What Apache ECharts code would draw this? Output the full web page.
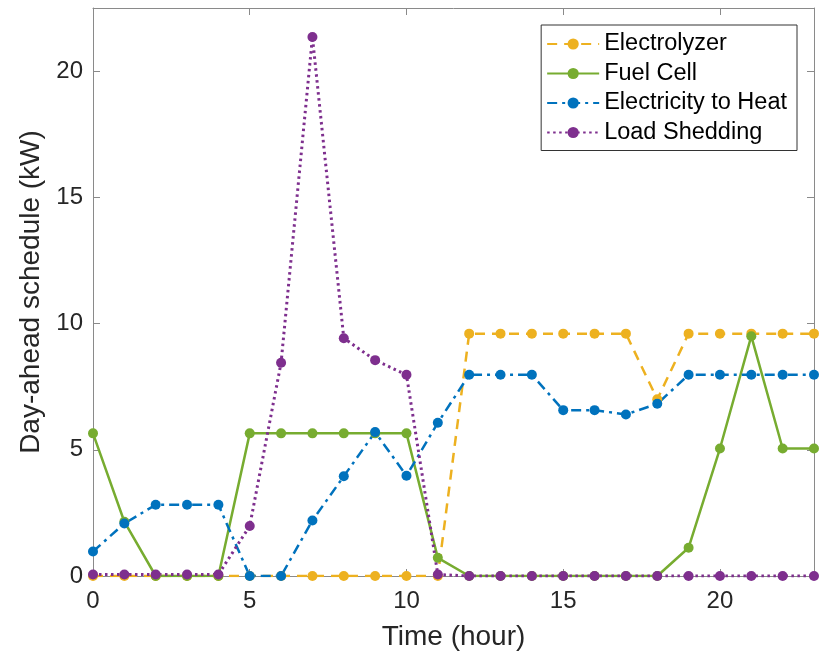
<!DOCTYPE html>
<html>
<head>
<meta charset="utf-8">
<script src="https://cdn.jsdelivr.net/npm/echarts@6/dist/echarts.min.js"></script>
<style>
html,body{margin:0;padding:0;background:#fff;}
#chart{width:821px;height:656px;}
</style>
</head>
<body>
<div id="chart"></div>
<script>
const hours = [0,1,2,3,4,5,6,7,8,9,10,11,12,13,14,15,16,17,18,19,20,21,22,23];
const electrolyzer = [0,0,0,0,0,0,0,0,0,0,0,0,9.6,9.6,9.6,9.6,9.6,9.6,7.0,9.6,9.6,9.6,9.6,9.6];
const fuelCell = [5.65,2.15,0,0,0,5.65,5.65,5.65,5.65,5.65,5.65,0.72,0,0,0,0,0,0,0,1.12,5.05,9.5,5.05,5.05];
const elecToHeat = [0.97,2.08,2.82,2.82,2.82,0,0,2.2,3.95,5.7,3.97,6.07,7.97,7.97,7.97,6.57,6.57,6.4,6.82,7.97,7.97,7.97,7.97,7.97];
const loadShedding = [0.06,0.06,0.06,0.06,0.06,1.98,8.45,21.35,9.42,8.55,7.97,0.06,0,0,0,0,0,0,0,0,0,0,0,0];
const xTicks = [0,5,10,15,20];
const yTicks = [0,5,10,15,20];
const seriesNames = ['Electrolyzer','Fuel Cell','Electricity to Heat','Load Shedding'];

const pair = arr => hours.map((h,i)=>[h,arr[i]]);
const font = 'Liberation Sans, Arial, Helvetica, sans-serif';
const axisColor = '#8a8a8a';
const textColor = '#262626';

const chart = echarts.init(document.getElementById('chart'), null, {renderer:'canvas'});
const mkSeries = (name, data, color, type, width) => ({
  name, type:'line', data: pair(data),
  symbol:'circle', symbolSize:10,
  itemStyle:{color},
  lineStyle:{color, width, type},
  animation:false
});
chart.setOption({
  animation:false,
  grid:{left:93, right:7, top:8, bottom:80, containLabel:false, outerBoundsMode:'none'},
  legend:{
    orient:'vertical', right:24, top:25,
    backgroundColor:'#fff',
    borderColor:'#333', borderWidth:1,
    padding:[7,10,6,5],
    itemWidth:52, itemHeight:14, itemGap:5.5,
    textStyle:{fontFamily:font, fontSize:23.5, color:'#000', lineHeight:24},
    data: seriesNames
  },
  xAxis:[{
    type:'value', min:0, max:23,
    name:'Time (hour)', nameLocation:'middle', nameGap:47,
    nameTextStyle:{fontFamily:font, fontSize:28, color:textColor},
    axisLine:{show:true, onZero:false, lineStyle:{color:axisColor, width:1}},
    axisTick:{show:true, inside:true, length:7, customValues:xTicks, lineStyle:{color:axisColor}},
    axisLabel:{customValues:xTicks, fontFamily:font, fontSize:24, color:textColor, margin:13},
    splitLine:{show:false}
  },{
    type:'value', min:0, max:23, position:'top',
    axisLine:{show:true, onZero:false, lineStyle:{color:axisColor, width:1}},
    axisTick:{show:true, inside:true, length:7, customValues:xTicks, lineStyle:{color:axisColor}},
    axisLabel:{show:false}, splitLine:{show:false}
  }],
  yAxis:[{
    type:'value', min:0, max:22.5,
    name:'Day-ahead schedule (kW)', nameLocation:'middle', nameGap:45,
    nameTextStyle:{fontFamily:font, fontSize:28, color:textColor},
    axisLine:{show:true, onZero:false, lineStyle:{color:axisColor, width:1}},
    axisTick:{show:true, inside:true, length:7, customValues:yTicks, lineStyle:{color:axisColor}},
    axisLabel:{customValues:yTicks, fontFamily:font, fontSize:24, color:textColor, margin:10},
    splitLine:{show:false}
  },{
    type:'value', min:0, max:22.5, position:'right',
    axisLine:{show:true, onZero:false, lineStyle:{color:axisColor, width:1}},
    axisTick:{show:true, inside:true, length:7, customValues:yTicks, lineStyle:{color:axisColor}},
    axisLabel:{show:false}, splitLine:{show:false}
  }],
  series:[
    mkSeries(seriesNames[0], electrolyzer, '#EDB120', [10,7], 2.5),
    mkSeries(seriesNames[1], fuelCell, '#77AC30', 'solid', 2.5),
    mkSeries(seriesNames[2], elecToHeat, '#0072BD', [10,5,3,5], 2.5),
    mkSeries(seriesNames[3], loadShedding, '#7E2F8E', [2.5,3.5], 3)
  ]
});
</script>
</body>
</html>
